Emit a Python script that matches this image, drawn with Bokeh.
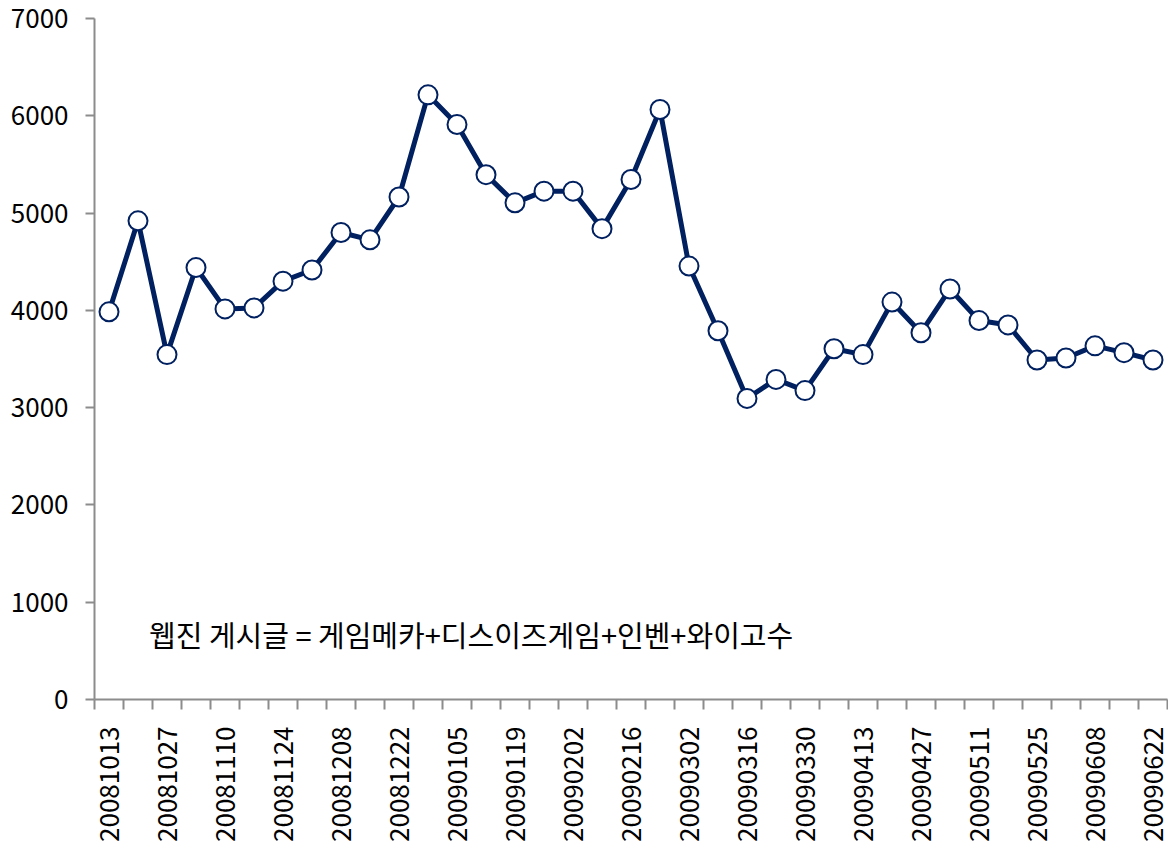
import numpy as np
from bokeh.plotting import figure
from bokeh.models import FixedTicker, Label, Range1d
from bokeh.embed import file_html
from bokeh.resources import INLINE

weeks = ["20081013","20081020","20081027","20081103","20081110","20081117","20081124",
         "20081201","20081208","20081215","20081222","20081229","20090105","20090112",
         "20090119","20090126","20090202","20090209","20090216","20090223","20090302",
         "20090309","20090316","20090323","20090330","20090406","20090413","20090420",
         "20090427","20090504","20090511","20090518","20090525","20090601","20090608",
         "20090615","20090622"]
posts = [3985, 4920, 3545, 4440, 4015, 4025, 4300, 4415, 4800, 4725, 5165, 6215,
         5910, 5395, 5105, 5225, 5225, 4840, 5345, 6065, 4455, 3790, 3095, 3290,
         3175, 3605, 3545, 4085, 3770, 4220, 3895, 3850, 3490, 3510, 3635, 3565, 3490]
y_ticks = [0, 1000, 2000, 3000, 4000, 5000, 6000, 7000]
note = "웹진 게시글 = 게임메카+디스이즈게임+인벤+와이고수"

FONT = "Noto Sans CJK KR"
NAVY = "#002060"
AXIS = "#8c8c8c"

x = list(range(len(weeks)))

p = figure(width=1168, height=854, output_backend="svg", toolbar_location=None,
           x_range=Range1d(-0.5, len(weeks) - 0.5), y_range=Range1d(0, 7000),
           min_border_left=94, min_border_right=1, min_border_top=18, min_border_bottom=155)
p.outline_line_color = None
p.grid.visible = False

p.line(x, posts, line_color=NAVY, line_width=5)
p.scatter(x, posts, size=19, fill_color="white", line_color=NAVY, line_width=2)

label_idx = list(range(0, len(weeks), 2))
p.xaxis.ticker = FixedTicker(ticks=label_idx,
                             minor_ticks=[i - 0.5 for i in range(len(weeks) + 1)])
p.xaxis.major_label_overrides = {i: weeks[i] for i in label_idx}
p.xaxis.major_label_orientation = np.pi / 2
p.xaxis.major_tick_out = 0
p.xaxis.major_tick_in = 0
p.xaxis.minor_tick_out = 10
p.xaxis.minor_tick_in = 0
p.xaxis.minor_tick_line_color = AXIS
p.xaxis.minor_tick_line_width = 2
p.xaxis.major_label_standoff = 17

p.yaxis.ticker = FixedTicker(ticks=y_ticks, minor_ticks=[])
p.yaxis.major_tick_out = 9
p.yaxis.major_tick_in = 0
p.yaxis.major_tick_line_color = AXIS
p.yaxis.major_tick_line_width = 2
p.yaxis.major_label_standoff = 17

for ax in (p.xaxis, p.yaxis):
    ax.axis_line_color = AXIS
    ax.axis_line_width = 2
    ax.major_label_text_font = FONT
    ax.major_label_text_font_size = "26px"
    ax.major_label_text_color = "black"

p.add_layout(Label(x=1.38, y=678, text=note, text_font=FONT, text_font_size="29px",
                   text_color="black", text_baseline="middle"))

open("out.html", "w").write(file_html(p, INLINE))
